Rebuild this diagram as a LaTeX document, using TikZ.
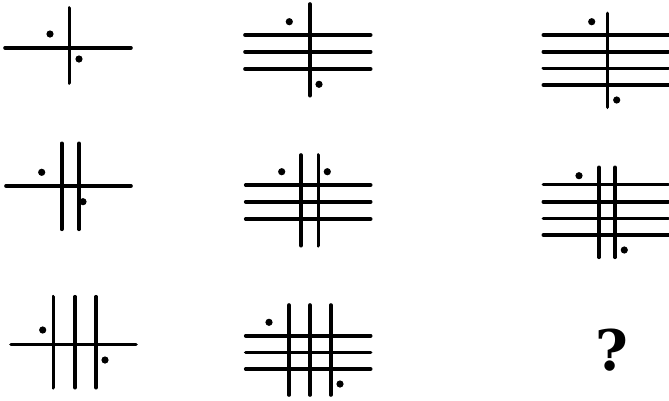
\documentclass[tikz,border=0pt]{standalone}
\usepackage{fontspec}
\setmainfont{DejaVu Serif}
\begin{document}
\begin{tikzpicture}[x=1pt,y=-1pt,
  bar/.style={line width=3.6pt,line cap=round,black},
  spot/.style={fill=black,draw=none}]
\useasboundingbox (0,0) rectangle (669,400);
% Figure 1
\draw[bar] (5,47.7) -- (131,47.7);
\draw[bar] (69.3,8) -- (69.3,83);
\fill[spot] (50,34) circle (3.6);
\fill[spot] (79,59) circle (3.6);
% Figure 2
\foreach \y in {35,51.7,69} \draw[bar] (245,\y) -- (370.7,\y);
\draw[bar] (310,4) -- (310,95.7);
\fill[spot] (289.3,21.7) circle (3.6);
\fill[spot] (319,84.3) circle (3.6);
% Figure 3
\foreach \y in {35,51.7,68.3,85} \draw[bar] (543.3,\y) -- (668.3,\y);
\draw[bar] (607.3,13.3) -- (607.3,107.3);
\fill[spot] (591.7,21.7) circle (3.6);
\fill[spot] (616.7,100) circle (3.6);
% Figure 4
\draw[bar] (6,186) -- (131,186);
\foreach \x in {61.7,79} \draw[bar] (\x,143.3) -- (\x,229.3);
\fill[spot] (41.7,172.3) circle (3.6);
\fill[spot] (83,201.7) circle (3.6);
% Figure 5
\foreach \y in {185,201.7,219} \draw[bar] (245.7,\y) -- (370.7,\y);
\foreach \x in {301,318.3} \draw[bar] (\x,155) -- (\x,245.7);
\fill[spot] (281.7,171.7) circle (3.6);
\fill[spot] (327.3,171.7) circle (3.6);
% Figure 6
\foreach \y in {184.3,201.7,218.3,235} \draw[bar] (543.3,\y) -- (668.3,\y);
\foreach \x in {599,615} \draw[bar] (\x,167.3) -- (\x,257.3);
\fill[spot] (579,175.7) circle (3.6);
\fill[spot] (624.3,250) circle (3.6);
% Figure 7
\draw[bar] (11,344.3) -- (136,344.3);
\foreach \x in {53.3,75,96} \draw[bar] (\x,296.7) -- (\x,387.7);
\fill[spot] (42.7,330) circle (3.6);
\fill[spot] (105,360) circle (3.6);
% Figure 8
\foreach \y in {335.7,352.3,369} \draw[bar] (245.7,\y) -- (370.7,\y);
\foreach \x in {289,310,330.7} \draw[bar] (\x,305) -- (\x,395);
\fill[spot] (269,322.3) circle (3.6);
\fill[spot] (340,384) circle (3.6);
% Question mark
\node[inner sep=0pt,font=\fontsize{56}{58}\selectfont\bfseries] (q) at (612.3,350.5) {?};
\end{tikzpicture}
\end{document}
